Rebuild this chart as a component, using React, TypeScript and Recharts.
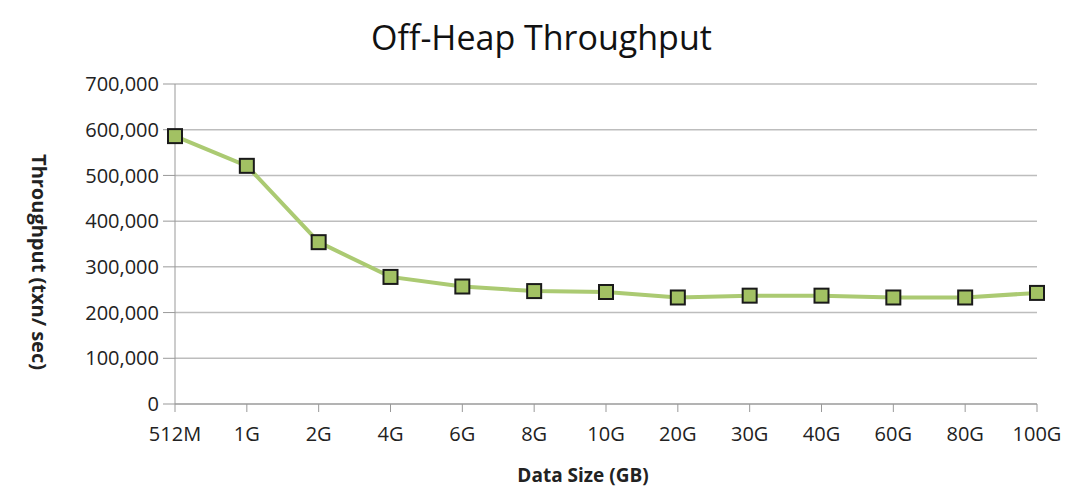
import { LineChart, Line, XAxis, YAxis, CartesianGrid, Label } from "recharts";

const sizes = ["512M", "1G", "2G", "4G", "6G", "8G", "10G", "20G", "30G", "40G", "60G", "80G", "100G"];
const throughput = [586000, 521000, 354000, 278000, 257000, 247000, 245000, 233000, 237000, 237000, 233000, 233000, 243000];
const yTicks = [0, 100000, 200000, 300000, 400000, 500000, 600000, 700000];

const data = sizes.map((name, i) => ({ name, throughput: throughput[i] }));

const FONT = "'Open Sans', sans-serif";

const SquareDot = (props: any) => {
  const { cx, cy, index } = props;
  if (cx == null || cy == null) return null;
  return (
    <rect
      key={`dot-${index}`}
      x={cx - 7}
      y={cy - 7}
      width={14}
      height={14}
      fill="#a2c163"
      stroke="#1a1a1a"
      strokeWidth={2}
    />
  );
};

export default function App() {
  return (
    <div style={{ position: "absolute", left: 0, top: 0, width: 1072, height: 488, background: "#fff", fontFamily: FONT }}>
      <div
        style={{
          position: "absolute",
          left: 0,
          top: 14,
          width: 1083,
          textAlign: "center",
          fontSize: 34,
          color: "#111",
        }}
      >
        Off-Heap Throughput
      </div>
      <LineChart
        width={1072}
        height={488}
        data={data}
        margin={{ top: 84, right: 35, left: 20, bottom: 0 }}
      >
        <CartesianGrid vertical={false} stroke="#bdbdbd" strokeWidth={1.5} />
        <XAxis
          dataKey="name"
          height={84}
          stroke="#999"
          tickLine={{ stroke: "#999" }}
          tickSize={8}
          tickMargin={15}
          tick={{ fill: "#222", fontSize: 20, fontFamily: FONT }}
          interval={0}
        >
          <Label
            value="Data Size (GB)"
            position="insideBottom"
            offset={6}
            dx={-23}
            style={{ fill: "#222", fontSize: 19, fontWeight: "bold", fontFamily: FONT }}
          />
        </XAxis>
        <YAxis
          width={155}
          domain={[0, 700000]}
          ticks={yTicks}
          stroke="#999"
          tickSize={12}
          tickMargin={4}
          tick={{ fill: "#222", fontSize: 20, fontFamily: FONT }}
          tickFormatter={(v: number) => v.toLocaleString("en-US")}
        >
          <Label
            value="Throughput (txn/ sec)"
            angle={90}
            position="insideLeft"
            offset={19}
            dy={18}
            style={{ fill: "#222", fontSize: 20, fontWeight: "bold", fontFamily: FONT, textAnchor: "middle" }}
          />
        </YAxis>
        <Line
          type="linear"
          dataKey="throughput"
          stroke="#abca72"
          strokeWidth={4}
          dot={<SquareDot />}
          activeDot={false}
          isAnimationActive={false}
        />
      </LineChart>
    </div>
  );
}
